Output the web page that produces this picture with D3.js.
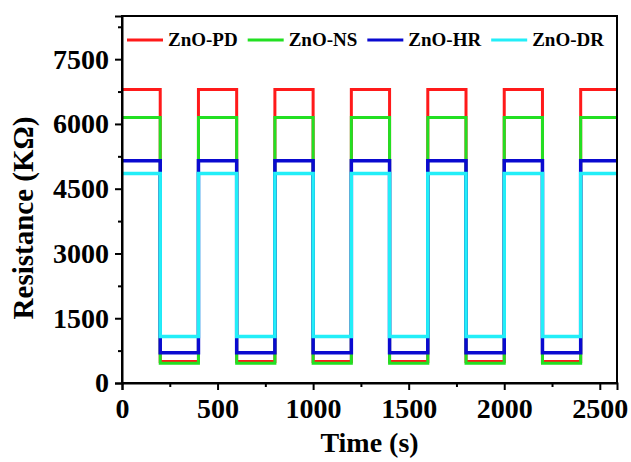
<!DOCTYPE html>
<html>
<head>
<meta charset="utf-8">
<script src="https://cdn.jsdelivr.net/npm/d3@7"></script>
<style>
  body { margin: 0; background: #fff; }
  text { font-family: "Liberation Serif", "Times New Roman", serif; font-weight: bold; }
</style>
</head>
<body>
<div id="chart"></div>
<script>
// switching times (s) - each value holds until the next time
var times = [0, 200, 400, 600, 800, 1000, 1200, 1400, 1600, 1800, 2000, 2200, 2400, 2590];
var pdValues = [6800, 500, 6800, 500, 6800, 500, 6800, 500, 6800, 500, 6800, 500, 6800, 6800];
var nsValues = [6150, 455, 6150, 455, 6150, 455, 6150, 455, 6150, 455, 6150, 455, 6150, 6150];
var hrValues = [5150, 700, 5150, 700, 5150, 700, 5150, 700, 5150, 700, 5150, 700, 5150, 5150];
var drValues = [4850, 1075, 4850, 1075, 4850, 1075, 4850, 1075, 4850, 1075, 4850, 1075, 4850, 4850];
var seriesNames = ["ZnO-PD", "ZnO-NS", "ZnO-HR", "ZnO-DR"];
var seriesColors = ["#ff1a1a", "#22e022", "#0a0ad0", "#22eef8"];
var xTicks = [0, 500, 1000, 1500, 2000, 2500];
var yTicks = [0, 1500, 3000, 4500, 6000, 7500];

var W = 631, H = 462;
var pLeft = 122, pRight = 617, pTop = 16, pBottom = 383;

var svg = d3.select("#chart").append("svg")
    .attr("width", W)
    .attr("height", H);

var x = d3.scaleLinear().domain([0, 2590]).range([pLeft, pRight]);
var y = d3.scaleLinear().domain([0, 8500]).range([pBottom, pTop]);

// data lines
var allSeries = [pdValues, nsValues, hrValues, drValues];
var lineFunc = d3.line()
    .curve(d3.curveStepAfter)
    .x(function(d, i) { return x(times[i]); })
    .y(function(d) { return y(d); });

svg.append("clipPath").attr("id", "clip")
  .append("rect")
    .attr("x", pLeft).attr("y", pTop)
    .attr("width", pRight - pLeft).attr("height", pBottom - pTop);

var plot = svg.append("g").attr("clip-path", "url(#clip)");
allSeries.forEach(function(vals, i) {
    plot.append("path")
        .attr("d", lineFunc(vals))
        .attr("fill", "none")
        .attr("stroke", seriesColors[i])
        .attr("stroke-width", i >= 2 ? 3.5 : 3);
});

// frame
svg.append("rect")
    .attr("x", pLeft).attr("y", pTop)
    .attr("width", pRight - pLeft).attr("height", pBottom - pTop)
    .attr("fill", "none")
    .attr("stroke", "#000")
    .attr("stroke-width", 2);

// x axis
var xAxis = d3.axisBottom(x).tickValues(xTicks).tickSize(7).tickPadding(8).tickFormat(d3.format("d"));
svg.append("g")
    .attr("transform", "translate(0," + pBottom + ")")
    .call(xAxis);
var xMinor = d3.axisBottom(x).tickValues([250, 750, 1250, 1750, 2250]).tickSize(4).tickFormat("");
svg.append("g").attr("transform", "translate(0," + pBottom + ")").call(xMinor)
    .select(".domain").remove();

// y axis
var yAxis = d3.axisLeft(y).tickValues(yTicks).tickSize(7).tickPadding(6).tickFormat(d3.format("d"));
svg.append("g")
    .attr("transform", "translate(" + pLeft + ",0)")
    .call(yAxis);
var yMinor = d3.axisLeft(y).tickValues([750, 2250, 3750, 5250, 6750, 8250]).tickSize(4).tickFormat("");
svg.append("g").attr("transform", "translate(" + pLeft + ",0)").call(yMinor)
    .select(".domain").remove();

svg.selectAll(".domain").attr("stroke-width", 2);
svg.selectAll(".tick line").attr("stroke-width", 2);
svg.selectAll(".tick text")
    .style("font-family", "'Liberation Serif', 'Times New Roman', serif")
    .style("font-weight", "bold")
    .style("font-size", "28px")
    .attr("fill", "#000");

// axis titles
svg.append("text")
    .attr("x", (pLeft + pRight) / 2)
    .attr("y", 452)
    .style("text-anchor", "middle")
    .style("font-size", "28px")
    .text("Time (s)");

svg.append("text")
    .attr("transform", "translate(33," + 218 + ") rotate(-90)")
    .style("text-anchor", "middle")
    .style("font-size", "29px")
    .text("Resistance (K\u03A9)");

// legend
var lx = 127;
seriesNames.forEach(function(name, i) {
    svg.append("line")
        .attr("x1", lx).attr("x2", lx + 36)
        .attr("y1", 40).attr("y2", 40)
        .attr("stroke", seriesColors[i])
        .attr("stroke-width", 3);
    var t = svg.append("text")
        .attr("x", lx + 41)
        .attr("y", 46)
        .style("font-size", "19px")
        .text(name);
    lx = lx + 41 + t.node().getComputedTextLength() + 10;
});
</script>
</body>
</html>
